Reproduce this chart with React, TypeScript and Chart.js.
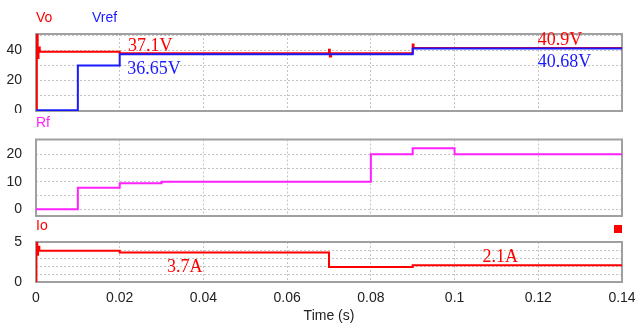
import React, { useEffect, useRef } from 'react';
import { Chart, registerables } from 'chart.js';

Chart.register(...registerables);

// ---------- data ----------
const timeTicks = [0, 0.02, 0.04, 0.06, 0.08, 0.1, 0.12, 0.14];

const voTime = [0, 0.0002, 0.0004, 0.0006, 0.0009, 0.02, 0.07, 0.0702, 0.0705, 0.09, 0.0902, 0.14];
const voValue = [0, 51, 35, 42, 39.2, 38.1, 40.5, 36, 38.1, 44, 41.7, 41.7];

const vrefTime = [0, 0.01, 0.02, 0.09, 0.14];
const vrefValue = [0, 30, 37.4, 41.3, 41.3];

const rfTime = [0, 0.01, 0.02, 0.03, 0.08, 0.09, 0.1, 0.14];
const rfValue = [0, 7.85, 9.45, 10, 20, 22.2, 20, 20];

const ioTime = [0, 0.0001, 0.0003, 0.0005, 0.0008, 0.02, 0.07, 0.09, 0.14];
const ioValue = [0, 5, 3.4, 4.4, 3.9, 3.7, 1.87, 2.08, 2.08];

const vGrid = [0, 10, 20, 30, 40, 50];
const vLabels = [0, 20, 40];
const rGrid = [0, 5, 10, 15, 20];
const rLabels = [0, 10, 20];
const iGrid = [0, 1, 2, 3, 4, 5];
const iLabels = [0, 5];

// ---------- styles ----------
const RED = '#ff0000';
const BLUE = '#1a1aff';
const MAGENTA = '#ff22ff';
const GRID = '#c4c4c4';
const FRAME = '#a0a0a0';
const TICK = '#222222';
const SANS = "Arial, 'Liberation Sans', sans-serif";
const SERIF = "'Times New Roman', 'Liberation Serif', serif";

type Series = { t: number[]; v: number[]; color: string; order: number };
type Note = { text: string; color: string; t: number; v: number };
type Title = { text: string; color: string; dx: number };

const notes1: Note[] = [
  { text: '37.1V', color: RED, t: 0.022, v: 39.6 },
  { text: '36.65V', color: BLUE, t: 0.0218, v: 24.2 },
  { text: '40.9V', color: RED, t: 0.1199, v: 43.6 },
  { text: '40.68V', color: BLUE, t: 0.1199, v: 28.9 },
];
const notes3: Note[] = [
  { text: '3.7A', color: RED, t: 0.0313, v: 1.25 },
  { text: '2.1A', color: RED, t: 0.1067, v: 2.5 },
];

interface PanelProps {
  top: number;
  height: number;
  padTop: number;
  padBottom: number;
  axisH: number;
  yMin: number;
  yMax: number;
  yGrid: number[];
  yLabels: number[];
  series: Series[];
  notes: Note[];
  titles: Title[];
  showX: boolean;
  square?: boolean;
}

function Panel(p: PanelProps) {
  const ref = useRef<HTMLCanvasElement>(null);
  useEffect(() => {
    if (!ref.current) return;
    const frame = {
      id: 'frame',
      beforeDatasetsDraw(chart: any) {
        const { ctx, chartArea: a } = chart;
        ctx.save();
        ctx.strokeStyle = FRAME;
        ctx.lineWidth = 2;
        ctx.strokeRect(a.left, a.top, a.right - a.left, a.bottom - a.top);
        ctx.restore();
      },
    };
    const texts = {
      id: 'texts',
      afterDatasetsDraw(chart: any) {
        const { ctx, chartArea: a, scales } = chart;
        ctx.save();
        ctx.textBaseline = 'middle';
        ctx.textAlign = 'left';
        ctx.font = `14px ${SANS}`;
        p.titles.forEach((ti) => {
          ctx.fillStyle = ti.color;
          ctx.fillText(ti.text, a.left + ti.dx, a.top - 16);
        });
        ctx.font = `18px ${SERIF}`;
        ctx.textBaseline = 'alphabetic';
        p.notes.forEach((n) => {
          ctx.fillStyle = n.color;
          ctx.fillText(n.text, scales.x.getPixelForValue(n.t), scales.y.getPixelForValue(n.v));
        });
        if (p.square) {
          ctx.fillStyle = RED;
          ctx.fillRect(a.right - 8, a.top - 17, 8, 8);
        }
        ctx.restore();
      },
    };
    const chart = new Chart(ref.current, {
      type: 'line',
      data: {
        datasets: p.series.map((s) => ({
          data: s.t.map((t, i) => ({ x: t, y: s.v[i] })),
          borderColor: s.color,
          backgroundColor: s.color,
          borderWidth: 2,
          pointRadius: 0,
          stepped: 'before' as const,
          fill: false,
          order: s.order,
        })),
      },
      options: {
        animation: false,
        responsive: false,
        maintainAspectRatio: false,
        layout: { padding: { top: p.padTop, right: 13, bottom: p.padBottom, left: 0 } },
        plugins: { legend: { display: false }, tooltip: { enabled: false } },
        scales: {
          x: {
            type: 'linear',
            min: 0,
            max: 0.14,
            afterBuildTicks: (ax: any) => {
              ax.ticks = timeTicks.map((v) => ({ value: v }));
            },
            afterFit: (ax: any) => {
              ax.height = p.axisH;
              ax.paddingLeft = 0;
              ax.paddingRight = 0;
            },
            grid: { color: GRID, drawTicks: false, lineWidth: 1 },
            border: { display: false, dash: [2, 2] },
            ticks: {
              display: p.showX,
              padding: 8,
              autoSkip: false,
              maxRotation: 0,
              color: TICK,
              font: { family: SANS, size: 14 },
              callback: (v: any) => String(+(+v).toFixed(2)),
            },
            title: {
              display: p.showX,
              text: 'Time (s)',
              color: TICK,
              font: { family: SANS, size: 14 },
              padding: 0,
            },
          },
          y: {
            type: 'linear',
            min: p.yMin,
            max: p.yMax,
            afterBuildTicks: (ax: any) => {
              ax.ticks = p.yGrid.map((v) => ({ value: v }));
            },
            afterFit: (ax: any) => {
              ax.width = 36;
              ax.paddingTop = 0;
              ax.paddingBottom = 0;
            },
            grid: { color: GRID, drawTicks: false, lineWidth: 1 },
            border: { display: false, dash: [2, 2] },
            ticks: {
              padding: 14,
              autoSkip: false,
              color: TICK,
              font: { family: SANS, size: 14 },
              callback: (v: any) => (p.yLabels.includes(+v) ? String(v) : ''),
            },
          },
        },
      },
      plugins: [frame, texts],
    } as any);
    return () => chart.destroy();
  }, []);
  return (
    <canvas
      ref={ref}
      width={635}
      height={p.height}
      style={{ position: 'absolute', left: 0, top: p.top, width: 635, height: p.height }}
    />
  );
}

export default function App() {
  return (
    <div style={{ position: 'absolute', left: 0, top: 0, width: 635, height: 325, background: '#fff', overflow: 'hidden' }}>
      <Panel
        top={0}
        height={113}
        padTop={34}
        padBottom={2}
        axisH={0}
        yMin={-0.5}
        yMax={51}
        yGrid={vGrid}
        yLabels={vLabels}
        series={[
          { t: voTime, v: voValue, color: RED, order: 1 },
          { t: vrefTime, v: vrefValue, color: BLUE, order: 0 },
        ]}
        notes={notes1}
        titles={[
          { text: 'Vo', color: RED, dx: 0 },
          { text: 'Vref', color: BLUE, dx: 56 },
        ]}
        showX={false}
      />
      <Panel
        top={113}
        height={105}
        padTop={26.5}
        padBottom={2}
        axisH={0}
        yMin={-2.44}
        yMax={25.4}
        yGrid={rGrid}
        yLabels={rLabels}
        series={[{ t: rfTime, v: rfValue, color: MAGENTA, order: 0 }]}
        notes={[]}
        titles={[{ text: 'Rf', color: MAGENTA, dx: 0 }]}
        showX={false}
      />
      <Panel
        top={218}
        height={107}
        padTop={24}
        padBottom={0}
        axisH={43}
        yMin={0}
        yMax={5}
        yGrid={iGrid}
        yLabels={iLabels}
        series={[{ t: ioTime, v: ioValue, color: RED, order: 0 }]}
        notes={notes3}
        titles={[{ text: 'Io', color: RED, dx: 0 }]}
        showX={true}
        square={true}
      />
    </div>
  );
}
